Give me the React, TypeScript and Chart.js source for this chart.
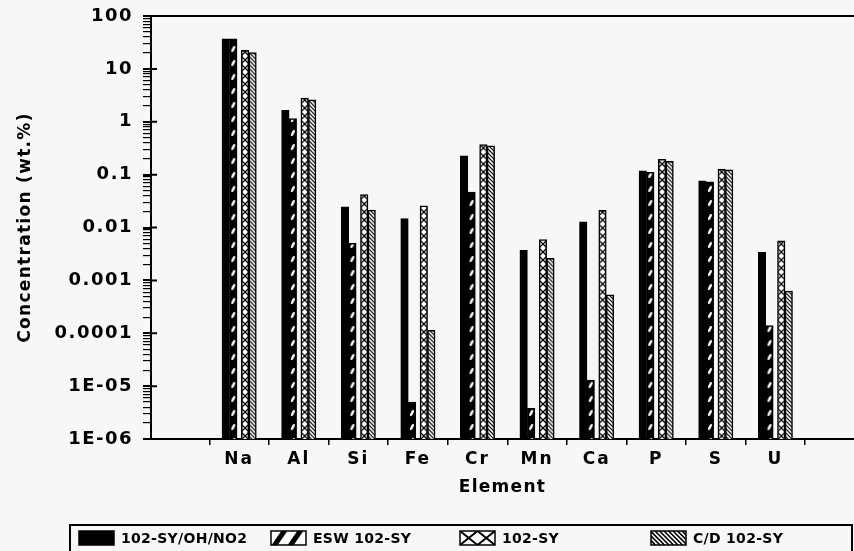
import { useEffect, useRef } from 'react';
import { Chart, registerables } from 'chart.js';
Chart.register(...registerables);

const categories = ['Na', 'Al', 'Si', 'Fe', 'Cr', 'Mn', 'Ca', 'P', 'S', 'U'];
const seriesNames = ['102-SY/OH/NO2', 'ESW 102-SY', '102-SY', 'C/D 102-SY'];
const syOhNo2 = [37, 1.65, 0.0245, 0.0148, 0.226, 0.0037, 0.0128, 0.118, 0.076, 0.0034];
const esw102sy = [37, 1.15, 0.005, 5.0e-6, 0.047, 3.8e-6, 1.3e-5, 0.11, 0.073, 1.4e-4];
const sy102 = [22.5, 2.8, 0.042, 0.0257, 0.37, 0.0059, 0.0212, 0.195, 0.127, 0.0056];
const cd102sy = [20.3, 2.6, 0.0213, 1.14e-4, 0.35, 0.0026, 5.3e-4, 0.179, 0.123, 6.3e-4];
const yTickValues = [1e-6, 1e-5, 1e-4, 1e-3, 0.01, 0.1, 1, 10, 100];
const yTickLabels = ['1E-06', '1E-05', '0.0001', '0.001', '0.01', '0.1', '1', '10', '100'];

const FONT = "'DejaVu Sans'";
const BAR_OFFSETS = [-0.2249, -0.099, 0.099, 0.2249];
const BAR_W = 7.5;
const BG = '#f7f7f7';

function makeTile(kind: number): HTMLCanvasElement {
  const c = document.createElement('canvas');
  const w = 8;
  const h = kind === 1 ? 14 : 8;
  c.width = w;
  c.height = h;
  const g = c.getContext('2d')!;
  if (kind === 1) {
    g.fillStyle = '#000';
    g.fillRect(0, 0, w, h);
    g.fillStyle = '#fff';
    g.beginPath();
    g.ellipse(4, 7, 1.3, 3.4, 0.45, 0, Math.PI * 2);
    g.fill();
  } else if (kind === 2) {
    g.fillStyle = '#fff';
    g.fillRect(0, 0, w, h);
    g.strokeStyle = '#000';
    g.lineWidth = 1.3;
    g.beginPath();
    g.moveTo(0, 0); g.lineTo(8, 8);
    g.moveTo(8, 0); g.lineTo(0, 8);
    g.stroke();
  } else {
    g.fillStyle = '#fff';
    g.fillRect(0, 0, w, h);
    g.strokeStyle = '#000';
    g.lineWidth = 1.2;
    g.beginPath();
    for (let k = -8; k <= 8; k += 4) {
      g.moveTo(0, k); g.lineTo(8, k + 8);
    }
    g.stroke();
  }
  return c;
}

function isDecade(v: number) {
  return yTickValues.some((t) => Math.abs(Math.log10(t) - Math.log10(v)) < 1e-6);
}

const spacingPlugin = {
  id: 'letterSpacingWrap',
  beforeDraw(chart: any) {
    const cfg: Record<string, [number, number]> = { x: [2, 1.3], y: [1.5, 1.3] };
    for (const id of Object.keys(cfg)) {
      const s: any = chart.scales[id];
      if (!s || s.__ls) continue;
      const [tickLs, titleLs] = cfg[id];
      const dl = s.drawLabels;
      const dt = s.drawTitle;
      s.drawLabels = function (a: any) {
        const c = this.ctx; c.save(); c.letterSpacing = tickLs + 'px'; dl.call(this, a); c.restore();
      };
      s.drawTitle = function () {
        const c = this.ctx; c.save(); c.letterSpacing = titleLs + 'px'; dt.call(this); c.restore();
      };
      s.__ls = true;
    }
  },
};

const framePlugin = {
  id: 'frameExtras',
  afterDraw(chart: any) {
    const { ctx, chartArea } = chart;
    const ys = chart.scales.y;
    ctx.save();
    ctx.strokeStyle = '#000';
    ctx.lineWidth = 2;
    ctx.beginPath();
    ctx.moveTo(chartArea.left, chartArea.top);
    ctx.lineTo(chartArea.right, chartArea.top);
    ctx.stroke();
    ctx.beginPath();
    for (const v of yTickValues) {
      const y = ys.getPixelForValue(v);
      ctx.moveTo(chartArea.left, y);
      ctx.lineTo(chartArea.left + 6, y);
    }
    ctx.stroke();

    // legend box
    const bx = 70, by = 525, bw = 782, bh = 40;
    ctx.lineWidth = 2;
    ctx.strokeRect(bx, by, bw, bh);
    const itemX = [79, 271, 460, 651];
    const sw = 35, sh = 14, sy = 531;
    ctx.font = `bold 14px ${FONT}`;
    (ctx as any).letterSpacing = '0.3px';
    ctx.textBaseline = 'middle';
    ctx.textAlign = 'left';
    chart.data.datasets.forEach((ds: any, i: number) => {
      const sx = itemX[i];
      ctx.save();
      ctx.beginPath();
      ctx.rect(sx, sy, sw, sh);
      ctx.clip();
      if (i === 0) {
        ctx.fillStyle = '#000';
        ctx.fillRect(sx, sy, sw, sh);
      } else {
        ctx.fillStyle = '#fff';
        ctx.fillRect(sx, sy, sw, sh);
        ctx.strokeStyle = '#000';
        ctx.beginPath();
        if (i === 1) {
          ctx.lineWidth = 5;
          for (let k = 0; k < 2; k++) {
            ctx.moveTo(sx + 3 + k * 16, sy + sh + 1);
            ctx.lineTo(sx + 14 + k * 16, sy - 1);
          }
        } else if (i === 2) {
          ctx.lineWidth = 2;
          for (let k = 0; k < 2; k++) {
            const x0 = sx + k * (sw / 2);
            ctx.moveTo(x0, sy); ctx.lineTo(x0 + sw / 2, sy + sh);
            ctx.moveTo(x0 + sw / 2, sy); ctx.lineTo(x0, sy + sh);
          }
        } else {
          ctx.lineWidth = 1.6;
          for (let k = -sh; k < sw; k += 4.5) {
            ctx.moveTo(sx + k, sy); ctx.lineTo(sx + k + sh, sy + sh);
          }
        }
        ctx.stroke();
      }
      ctx.restore();
      ctx.strokeStyle = '#000';
      ctx.lineWidth = 1.5;
      ctx.strokeRect(sx, sy, sw, sh);
      ctx.fillStyle = '#000';
      ctx.fillText(ds.label, sx + 42, sy + sh / 2 + 1);
    });
    ctx.restore();
  },
};

export default function App() {
  const ref = useRef<HTMLCanvasElement | null>(null);
  useEffect(() => {
    document.body.style.background = BG;
    document.body.style.margin = '0';
    const canvas = ref.current!;
    const tiles = [null, makeTile(1), makeTile(2), makeTile(3)];
    const seriesValues = [syOhNo2, esw102sy, sy102, cd102sy];

    const xTickValues: number[] = [];
    categories.forEach((_, i) => { xTickValues.push(i - 0.5, i); });
    xTickValues.push(categories.length - 0.5);

    const yAllTicks: number[] = [];
    for (let e = -6; e <= 2; e++) {
      for (let s = 1; s <= 9; s++) {
        const v = s * Math.pow(10, e);
        if (v <= 100 + 1e-9) yAllTicks.push(v);
        if (e === 2) break;
      }
    }

    const datasets = seriesValues.map((vals, d) => ({
      label: seriesNames[d],
      data: vals.map((v, i) => ({ x: i + BAR_OFFSETS[d], y: v })),
      grouped: false,
      barThickness: BAR_W,
      borderWidth: 1.5,
      borderColor: '#000',
      borderSkipped: 'start',
      backgroundColor: (c: any) => {
        if (d === 0 || c.type !== 'data' || !c.raw) return '#000';
        const xs = c.chart.scales.x;
        const px = xs.getPixelForValue(c.raw.x);
        const pat = c.chart.ctx.createPattern(tiles[d] as HTMLCanvasElement, 'repeat');
        pat.setTransform(new DOMMatrix([1, 0, 0, 1, px - 4, 0]));
        return pat;
      },
    }));

    const chart = new Chart(canvas, {
      type: 'bar',
      data: { datasets: datasets as any },
      plugins: [spacingPlugin, framePlugin],
      options: {
        animation: false,
        responsive: false,
        devicePixelRatio: 1,
        layout: { padding: { top: 16, left: 0, right: 0, bottom: 0 } },
        plugins: { legend: { display: false }, tooltip: { enabled: false } },
        scales: {
          x: {
            type: 'linear',
            offset: false,
            min: -1.48,
            max: 10.32,
            afterBuildTicks: (s: any) => { s.ticks = xTickValues.map((v) => ({ value: v })); },
            afterFit: (s: any) => { s.height = 112; },
            ticks: {
              autoSkip: false,
              maxRotation: 0,
              padding: 4,
              color: '#000',
              font: { family: FONT, size: 17, weight: 'bold' },
              callback: (v: any) => (Number.isInteger(v) ? categories[v] ?? '' : ''),
            },
            grid: {
              offset: false,
              drawOnChartArea: false,
              drawTicks: true,
              tickLength: 6,
              lineWidth: 1.5,
              color: (c: any) => (c.tick && Number.isInteger(c.tick.value) ? 'rgba(0,0,0,0)' : '#000'),
            },
            border: { display: true, color: '#000', width: 2 },
            title: {
              display: true,
              text: 'Element',
              color: '#000',
              font: { family: FONT, size: 17, weight: 'bold' },
              padding: { top: 0, bottom: 53 },
            },
          },
          y: {
            type: 'logarithmic',
            min: 1e-6,
            max: 100,
            afterBuildTicks: (s: any) => { s.ticks = yAllTicks.map((v) => ({ value: v })); },
            afterFit: (s: any) => { s.width = 151; },
            ticks: {
              autoSkip: false,
              padding: 10,
              color: '#000',
              font: { family: FONT, size: 18, weight: 'bold', lineHeight: 0.5 },
              callback: (v: any) => {
                const i = yTickValues.findIndex((t) => Math.abs(Math.log10(t) - Math.log10(v)) < 1e-6);
                return i >= 0 ? yTickLabels[i] : '';
              },
            },
            grid: {
              drawOnChartArea: false,
              drawTicks: true,
              tickLength: 8,
              color: '#000',
              lineWidth: (c: any) => (c.tick && isDecade(c.tick.value) ? 2 : 1.2),
            },
            border: { display: true, color: '#000', width: 2 },
            title: {
              display: true,
              text: 'Concentration (wt.%)',
              color: '#000',
              font: { family: FONT, size: 17, weight: 'bold' },
              padding: { top: 15, bottom: 0 },
            },
          },
        },
      } as any,
    });
    return () => chart.destroy();
  }, []);

  return (
    <div style={{ position: 'fixed', left: 0, top: 0, width: 854, height: 551, background: BG, overflow: 'hidden' }}>
      <canvas ref={ref} width={854} height={551} style={{ display: 'block' }} />
    </div>
  );
}
